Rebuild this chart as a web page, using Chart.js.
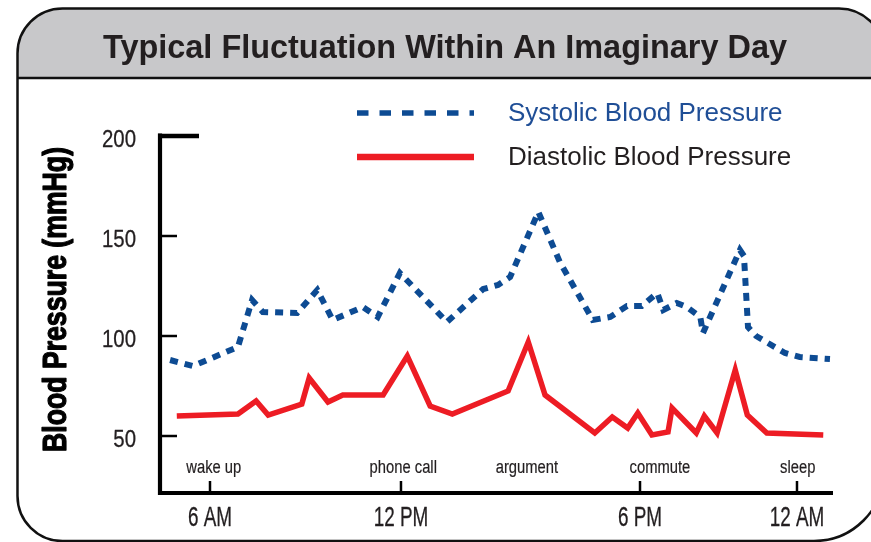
<!DOCTYPE html>
<html>
<head>
<meta charset="utf-8">
<script src="https://cdn.jsdelivr.net/npm/chart.js@4.4.1/dist/chart.umd.min.js"></script>
<style>
  html, body { margin: 0; padding: 0; background: #fff; }
  #wrap { width: 871px; height: 542px; position: relative; }
</style>
</head>
<body>
<div id="wrap"><canvas id="c" width="871" height="542"></canvas></div>
<script>
// ---- data (x = position along the day axis, 0..100) ----
const systolicX = [1.5, 4.9, 11.6, 13.7, 15.3, 20.4, 23.4, 25.7, 30.2, 32.4, 35.7, 42.7, 48.1, 50.3, 52.1, 56.3, 59.5, 64.4, 67.0, 69.5, 71.7, 74.0, 74.9, 76.9, 78.4, 80.4, 80.8, 86.3, 86.9, 87.5, 88.7, 93.0, 95.2, 99.7];
const systolicY = [88, 85, 94.5, 118, 112, 111.5, 123, 108, 114.5, 109.5, 131.5, 107, 123.5, 125.5, 129.5, 162, 137, 108, 109.5, 115, 115, 121.5, 113, 116.5, 114.5, 109.5, 101.5, 143, 140, 104.5, 100, 91.5, 89.5, 88.5];
const diastolicX = [2.5, 11.6, 14.3, 16.1, 21.1, 22.2, 25.0, 27.2, 33.2, 36.8, 40.2, 43.5, 51.8, 54.8, 57.3, 64.7, 67.3, 69.6, 71.1, 73.2, 75.6, 76.2, 79.8, 81.0, 82.9, 85.6, 87.4, 90.3, 98.7];
const diastolicY = [60, 61, 67.5, 60.5, 66, 79, 67, 70.5, 70.5, 90, 65, 61, 72.5, 97, 70.5, 51.5, 59.5, 54, 61.5, 50.5, 52, 64, 51.5, 60, 51.5, 83, 60.5, 51.5, 50.5];
const timeTickPos = [7.44, 35.86, 71.43, 94.79];
const timeTickLabels = ['6 AM', '12 PM', '6 PM', '12 AM'];
const eventPos = [8.0, 36.2, 54.6, 74.4, 94.9];
const eventLabels = ['wake up', 'phone call', 'argument', 'commute', 'sleep'];
const yTicks = [50, 100, 150, 200];
const chartTitle = 'Typical Fluctuation Within An Imaginary Day';
const yTitle = 'Blood Pressure (mmHg)';
const seriesNames = ['Systolic Blood Pressure', 'Diastolic Blood Pressure'];

const BLUE = '#0d4b93';
const RED = '#ed1c24';
const INK = '#231f20';
const FONT = '"Liberation Sans", Arial, sans-serif';

function toPoints(xs, ys) { return xs.map((x, i) => ({ x: x, y: ys[i] })); }

function txt(ctx, s, x, y, font, sx, align, base, color, bold) {
  ctx.save();
  ctx.font = font; ctx.fillStyle = color; ctx.textAlign = align; ctx.textBaseline = base;
  ctx.translate(x, y); ctx.scale(sx, 1); ctx.fillText(s, 0, 0);
  if (bold) { ctx.strokeStyle = color; ctx.lineWidth = bold; ctx.lineJoin = 'round'; ctx.strokeText(s, 0, 0); }
  ctx.restore();
}
function fitScale(ctx, s, font, w) { ctx.save(); ctx.font = font; const m = ctx.measureText(s).width; ctx.restore(); return w / m; }

function roundRectPath(ctx, x, y, w, h, r) {
  const [tl, tr, br, bl] = r;
  ctx.beginPath();
  ctx.moveTo(x + tl, y);
  ctx.lineTo(x + w - tr, y);
  ctx.arcTo(x + w, y, x + w, y + tr, tr);
  ctx.lineTo(x + w, y + h - br);
  ctx.arcTo(x + w, y + h, x + w - br, y + h, br);
  ctx.lineTo(x + bl, y + h);
  ctx.arcTo(x, y + h, x, y + h - bl, bl);
  ctx.lineTo(x, y + tl);
  ctx.arcTo(x, y, x + tl, y, tl);
  ctx.closePath();
}

const framePlugin = {
  id: 'frame',
  beforeDraw(chart) {
    const ctx = chart.ctx;
    ctx.save();
    ctx.fillStyle = '#fff';
    ctx.fillRect(0, 0, chart.width, chart.height);
    const fx = 17.5, fy = 8.5, fw = 866.5, fh = 532.5, rad = [45, 45, 70, 45];
    // header fill
    ctx.save();
    roundRectPath(ctx, fx, fy, fw, fh, rad);
    ctx.clip();
    ctx.fillStyle = '#c8c8ca';
    ctx.fillRect(fx, fy, fw, 78 - fy);
    ctx.restore();
    // header separator
    ctx.strokeStyle = '#111';
    ctx.lineWidth = 2.5;
    ctx.beginPath(); ctx.moveTo(fx, 78); ctx.lineTo(fx + fw, 78); ctx.stroke();
    // outline
    roundRectPath(ctx, fx, fy, fw, fh, rad);
    ctx.stroke();
    ctx.restore();
    // title
    const tf = 'bold 34px ' + FONT;
    txt(ctx, chartTitle, 445, 58, tf, fitScale(ctx, chartTitle, tf, 684), 'center', 'alphabetic', INK);
  },
  beforeDatasetsDraw(chart) {
    const ctx = chart.ctx, xs = chart.scales.x, ys = chart.scales.y, a = chart.chartArea;
    ctx.save();
    ctx.strokeStyle = '#000';
    ctx.lineCap = 'butt';
    // y axis
    ctx.lineWidth = 4.2;
    ctx.beginPath(); ctx.moveTo(a.left, ys.getPixelForValue(200) - 2.5); ctx.lineTo(a.left, a.bottom + 3); ctx.stroke();
    // x axis
    ctx.beginPath(); ctx.moveTo(a.left - 2, a.bottom + 1); ctx.lineTo(a.right + 1, a.bottom + 1); ctx.stroke();
    // y ticks
    yTicks.forEach(v => {
      const py = ys.getPixelForValue(v);
      if (v === 200) { ctx.lineWidth = 4.5; ctx.beginPath(); ctx.moveTo(a.left - 2, py); ctx.lineTo(a.left + 39, py); ctx.stroke(); }
      else { ctx.lineWidth = 2.5; ctx.beginPath(); ctx.moveTo(a.left, py); ctx.lineTo(a.left + 17, py); ctx.stroke(); }
      txt(ctx, String(v), a.left - 24, py + 4, '24px ' + FONT, 0.85, 'right', 'middle', INK, 0.3);
    });
    // x ticks
    timeTickPos.forEach((p, i) => {
      const px = xs.getPixelForValue(p);
      ctx.lineWidth = 2.5;
      ctx.beginPath(); ctx.moveTo(px, a.bottom - 11); ctx.lineTo(px, a.bottom); ctx.stroke();
      txt(ctx, timeTickLabels[i], px, a.bottom + 27, '27px ' + FONT, 0.7, 'center', 'middle', INK, 0.3);
    });
    // event labels
    eventPos.forEach((p, i) => {
      txt(ctx, eventLabels[i], xs.getPixelForValue(p), a.bottom - 19, '18px ' + FONT, 0.82, 'center', 'alphabetic', INK, 0.2);
    });
    ctx.restore();
    // y title
    const yf = 'bold 33px ' + FONT;
    const sx = fitScale(ctx, yTitle, yf, 305);
    ctx.save();
    ctx.translate(66, 299.5);
    ctx.rotate(-Math.PI / 2);
    ctx.scale(sx, 1);
    ctx.font = yf; ctx.fillStyle = '#000'; ctx.textAlign = 'center'; ctx.textBaseline = 'alphabetic';
    ctx.fillText(yTitle, 0, 0);
    ctx.strokeStyle = '#000'; ctx.lineWidth = 1.2; ctx.lineJoin = 'round';
    ctx.strokeText(yTitle, 0, 0);
    ctx.restore();
  },
  afterDraw(chart) {
    const ctx = chart.ctx;
    const ds = chart.data.datasets;
    const rows = [113, 157];
    ds.forEach((d, i) => {
      ctx.save();
      ctx.strokeStyle = d.borderColor;
      ctx.lineWidth = i === 0 ? 5.5 : 6.5;
      ctx.lineCap = 'butt';
      ctx.setLineDash(i === 0 ? [11.5, 11] : []);
      ctx.beginPath(); ctx.moveTo(357, rows[i]); ctx.lineTo(474, rows[i]); ctx.stroke();
      ctx.restore();
      txt(ctx, d.label, 508, rows[i] + 1, '26px ' + FONT, 1, 'left', 'middle', i === 0 ? '#1f4e96' : INK);
    });
  }
};

new Chart(document.getElementById('c'), {
  type: 'line',
  data: {
    datasets: [
      {
        label: seriesNames[0],
        data: toPoints(systolicX, systolicY),
        borderColor: BLUE,
        borderWidth: 6,
        borderDash: [8, 7],
        borderCapStyle: 'butt',
        borderJoinStyle: 'miter',
        pointRadius: 0,
        tension: 0,
        fill: false
      },
      {
        label: seriesNames[1],
        data: toPoints(diastolicX, diastolicY),
        borderColor: RED,
        borderWidth: 5.5,
        borderCapStyle: 'butt',
        borderJoinStyle: 'miter',
        pointRadius: 0,
        tension: 0,
        fill: false
      }
    ]
  },
  options: {
    responsive: false,
    animation: false,
    layout: { padding: { left: 160, top: 136, right: 39, bottom: 50 } },
    plugins: { legend: { display: false }, title: { display: false }, tooltip: { enabled: false } },
    scales: {
      x: { type: 'linear', min: 0, max: 100, display: false },
      y: { type: 'linear', min: 22, max: 200, display: false }
    }
  },
  plugins: [framePlugin]
});
</script>
</body>
</html>
